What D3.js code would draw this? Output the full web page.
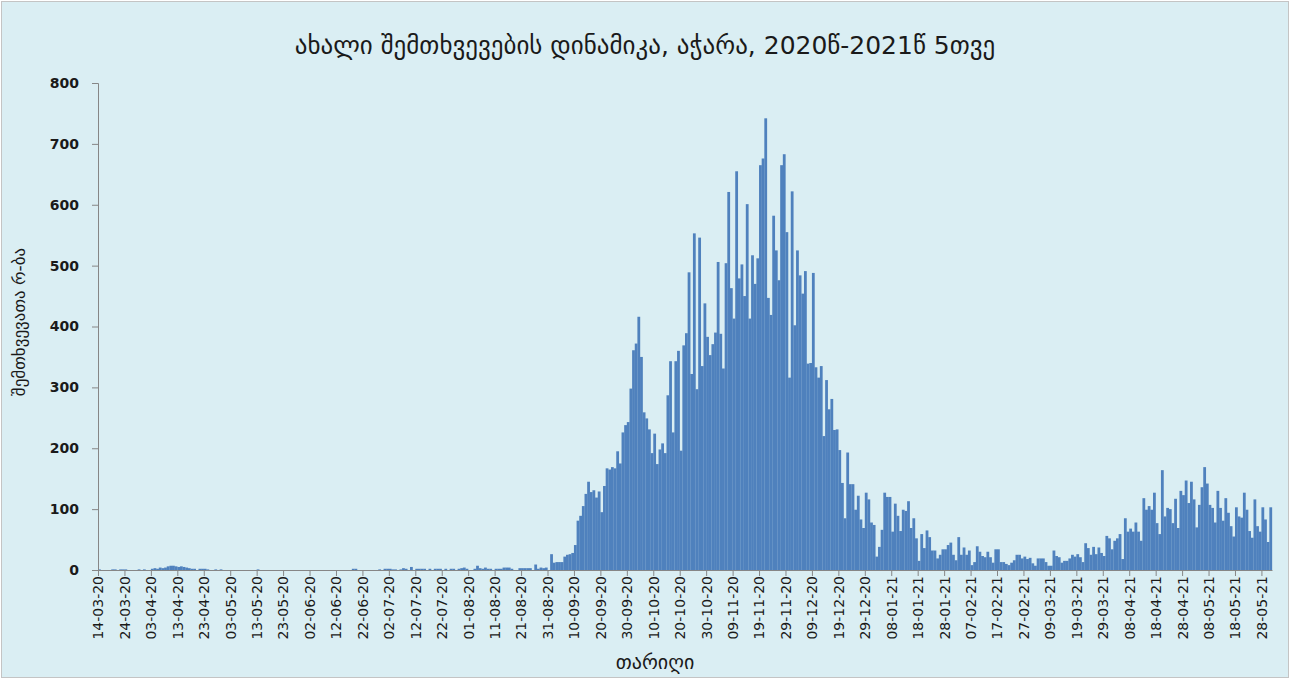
<!DOCTYPE html>
<html>
<head>
<meta charset="utf-8">
<script src="https://cdn.jsdelivr.net/npm/d3@7"></script>
<style>
  body { margin: 0; background: #fff; }
  text { font-family: "DejaVu Sans", sans-serif; fill: #1a1a1a; }
  .axis path, .axis line { stroke: #868686; }
</style>
</head>
<body>
<div id="chart"></div>
<script>
// daily new cases, Adjara, 14-03-2020 .. 31-05-2021 (one array per month)
var startDate = "2020-03-14";

var cases2020Mar = [1,0,0,0,0,1,1,0,1,1,1,0,0,0,0,1,0,1];
var cases2020Apr = [0,0,2,3,2,4,3,4,6,7,7,6,5,6,5,4,3,2,2,0,2,2,2,1,0,0,1,0,1,0];
var cases2020May = [0,0,0,0,0,0,0,0,0,0,0,0,1,0,0,0,0,0,0,0,0,0,0,0,0,0,0,0,0,0,0];
var cases2020Jun = [0,0,0,0,0,0,0,0,0,0,0,0,0,0,0,0,0,2,2,0,0,0,0,0,0,0,0,1,0,2];
var cases2020Jul = [2,2,1,1,0,1,3,2,0,5,0,2,2,2,2,0,2,0,2,2,2,0,2,0,2,2,0,2,3,4,2];
var cases2020Aug = [0,0,2,7,3,2,4,2,2,0,2,2,2,4,4,4,2,0,0,3,3,3,3,3,0,9,2,4,3,4,0];
var cases2020Sep = [26,12,13,13,13,22,25,26,28,41,81,89,105,125,145,128,131,119,129,95,
                    138,167,165,169,167,195,175,226,238,243];
var cases2020Oct = [298,361,372,416,350,259,249,231,192,224,174,198,208,192,287,343,226,343,
                    360,196,369,389,489,322,553,297,546,335,438,383,353];
var cases2020Nov = [371,390,506,388,331,504,621,463,413,655,479,502,450,601,413,517,470,512,
                    665,676,742,447,419,582,525,476,665,683,555,316];
var cases2020Dec = [622,402,525,484,454,491,339,340,488,333,316,335,220,312,264,281,230,231,
                    197,143,85,193,141,141,99,122,83,69,127,116,78];
var cases2021Jan = [74,22,38,66,127,120,120,63,109,89,64,99,97,113,69,85,52,15,59,36,65,54,
                    32,32,19,25,34,34,41,45,25];
var cases2021Feb = [16,54,25,37,25,32,8,13,39,30,23,21,30,21,12,34,34,13,13,10,8,12,16,25,
                    25,19,22,18];
var cases2021Mar = [20,11,7,19,19,19,13,7,7,32,23,21,12,15,15,19,25,22,26,21,13,44,36,25,38,
                    26,37,28,23,56,52];
var cases2021Apr = [34,48,52,59,18,85,63,68,63,78,63,48,118,99,105,99,127,77,59,164,88,102,
                    100,77,117,69,130,123,147,110];
var cases2021May = [145,116,70,107,136,169,142,107,102,78,130,102,81,118,94,72,55,103,88,86,
                    127,99,64,53,116,72,63,103,83,46,103];

var yTicks = [0, 100, 200, 300, 400, 500, 600, 700, 800];
var xTickLabels = ["14-03-20","24-03-20","03-04-20","13-04-20","23-04-20","03-05-20","13-05-20",
  "23-05-20","02-06-20","12-06-20","22-06-20","02-07-20","12-07-20","22-07-20","01-08-20",
  "11-08-20","21-08-20","31-08-20","10-09-20","20-09-20","30-09-20","10-10-20","20-10-20",
  "30-10-20","09-11-20","19-11-20","29-11-20","09-12-20","19-12-20","29-12-20","08-01-21",
  "18-01-21","28-01-21","07-02-21","17-02-21","27-02-21","09-03-21","19-03-21","29-03-21",
  "08-04-21","18-04-21","28-04-21","08-05-21","18-05-21","28-05-21"];

var titleText = "ახალი შემთხვევების დინამიკა, აჭარა, 2020წ-2021წ 5თვე";
var yLabelText = "შემთხვევათა რ-ბა";
var xLabelText = "თარიღი";

var width = 1291, height = 680;
var margin = { top: 83, right: 19, bottom: 110, left: 98 };

var cases = [].concat(cases2020Mar, cases2020Apr, cases2020May, cases2020Jun, cases2020Jul,
  cases2020Aug, cases2020Sep, cases2020Oct, cases2020Nov, cases2020Dec, cases2021Jan,
  cases2021Feb, cases2021Mar, cases2021Apr, cases2021May);

var day0 = d3.utcParse("%Y-%m-%d")(startDate);
var data = cases.map(function(v, i) {
  return { date: d3.utcDay.offset(day0, i), value: v };
});
var parseTick = d3.utcParse("%d-%m-%y");
var tickDates = xTickLabels.map(function(s) { return parseTick(s); });

var svg = d3.select("#chart")
  .append("svg")
  .attr("width", width)
  .attr("height", height);

// chart background
svg.append("rect")
  .attr("x", 1.5).attr("y", 1.5)
  .attr("width", width - 4).attr("height", height - 4)
  .attr("fill", "#DAEEF3")
  .attr("stroke", "#C4C4C4");

var x = d3.scaleUtc()
  .domain([day0, d3.utcDay.offset(day0, cases.length)])
  .range([margin.left, width - margin.right]);

var y = d3.scaleLinear()
  .domain([0, 800])
  .range([height - margin.bottom, margin.top]);

// bars
svg.append("g")
  .selectAll("rect")
  .data(data)
  .enter()
  .append("rect")
  .attr("x", function(d) { return x(d.date); })
  .attr("width", function(d) { return x(d3.utcDay.offset(d.date, 1)) - x(d.date) + 0.15; })
  .attr("y", function(d) { return y(d.value); })
  .attr("height", function(d) { return y(0) - y(d.value); })
  .attr("fill", "#4F81BD");

// Y axis
var yAxis = svg.append("g")
  .attr("class", "axis")
  .attr("transform", "translate(" + margin.left + ",0)")
  .call(d3.axisLeft(y).tickValues(yTicks).tickSize(6).tickSizeOuter(6).tickPadding(13));
yAxis.selectAll("text")
  .style("font-size", "14px")
  .style("font-weight", "bold")
  .style("font-family", "DejaVu Sans");

// X axis
var xAxis = svg.append("g")
  .attr("class", "axis")
  .attr("transform", "translate(0," + y(0) + ")")
  .call(d3.axisBottom(x).tickValues(tickDates).tickFormat(d3.utcFormat("%d-%m-%y"))
    .tickSize(6).tickSizeOuter(0));
xAxis.selectAll("text")
  .attr("transform", "rotate(-90)")
  .attr("text-anchor", "end")
  .attr("x", -6)
  .attr("y", 0)
  .attr("dy", "0.35em")
  .style("font-size", "14px")
  .style("font-family", "DejaVu Sans");

// title and axis labels
svg.append("text")
  .attr("x", 645)
  .attr("y", 54)
  .attr("text-anchor", "middle")
  .style("font-size", "25px")
  .text(titleText);

svg.append("text")
  .attr("transform", "translate(25," + 322 + ") rotate(-90)")
  .attr("text-anchor", "middle")
  .style("font-size", "17px")
  .text(yLabelText);

svg.append("text")
  .attr("x", 655)
  .attr("y", 669)
  .attr("text-anchor", "middle")
  .style("font-size", "20px")
  .text(xLabelText);
</script>
</body>
</html>
